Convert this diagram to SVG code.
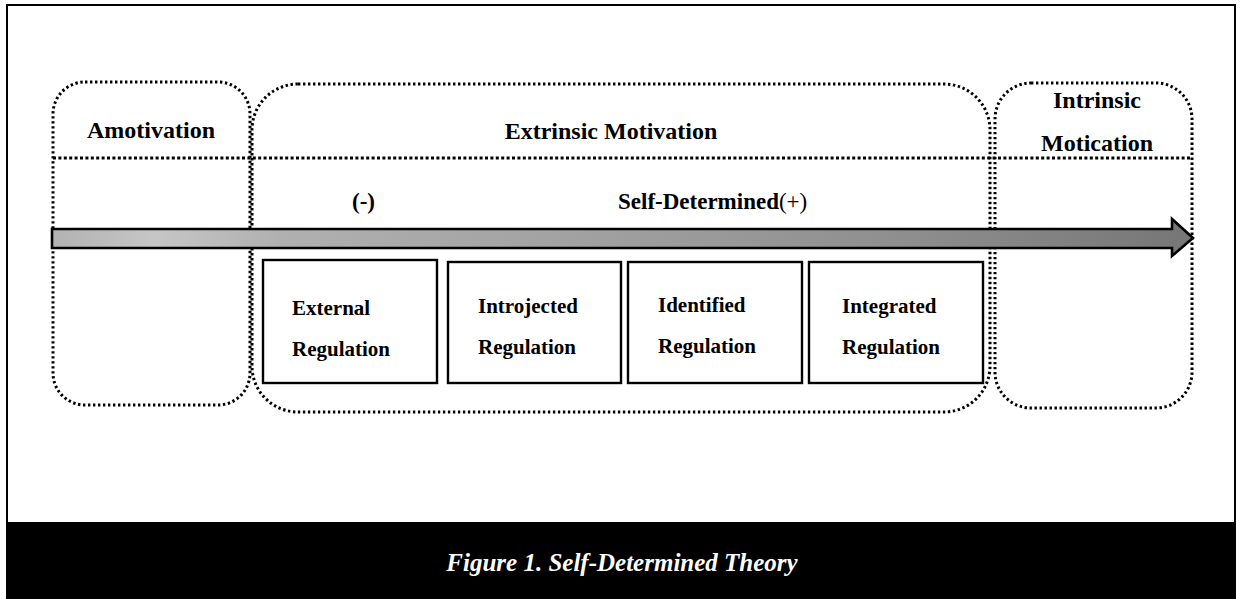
<svg xmlns="http://www.w3.org/2000/svg" width="1240" height="599" viewBox="0 0 1240 599">
  <style>
    .zone { fill: none; stroke: #000; stroke-width: 3; stroke-dasharray: 2.4 2.6; }
    .divider { fill: none; stroke: #000; stroke-width: 3; stroke-dasharray: 3 2.4; }
    .box { fill: #fff; stroke: #000; stroke-width: 2.4; }
    .head { font-family: "Liberation Serif", "Times New Roman", serif; font-weight: bold; font-size: 24px; fill: #000; }
    .lbl { font-family: "Liberation Serif", "Times New Roman", serif; font-weight: bold; font-size: 21px; fill: #000; }
    .scale { font-family: "Liberation Serif", "Times New Roman", serif; font-weight: bold; font-size: 23px; fill: #000; }
    .caption { font-family: "Liberation Serif", "Times New Roman", serif; font-weight: bold; font-style: italic; font-size: 25px; fill: #fff; }
  </style>
  <defs>
    <linearGradient id="shaft" x1="52" y1="0" x2="1193" y2="0" gradientUnits="userSpaceOnUse">
      <stop offset="0" stop-color="#b2b2b2"/>
      <stop offset="0.09" stop-color="#c6c6c6"/>
      <stop offset="0.2" stop-color="#b0b0b0"/>
      <stop offset="0.45" stop-color="#a2a2a2"/>
      <stop offset="0.75" stop-color="#8e8e8e"/>
      <stop offset="1" stop-color="#767676"/>
    </linearGradient>
  </defs>

  <!-- page frame and caption band -->
  <rect x="0" y="0" width="1240" height="599" fill="#fff"/>
  <path d="M7 599 V5 H1235 V599" fill="none" stroke="#000" stroke-width="2"/>
  <rect x="6" y="522" width="1230" height="77" fill="#000"/>
  <text class="caption" x="622" y="571" text-anchor="middle">Figure 1. Self-Determined Theory</text>

  <!-- motivation zones -->
  <g id="amotivation">
    <rect class="zone" x="53" y="82" width="197" height="323" rx="32" ry="32"/>
    <text class="head" x="151" y="138" text-anchor="middle">Amotivation</text>
  </g>
  <g id="extrinsic-motivation">
    <rect class="zone" x="252" y="84" width="738" height="328" rx="46" ry="46"/>
    <text class="head" x="611" y="139" text-anchor="middle">Extrinsic Motivation</text>
  </g>
  <g id="intrinsic-motivation">
    <rect class="zone" x="995" y="83" width="197" height="325" rx="36" ry="36"/>
    <text class="head" x="1097" y="108" text-anchor="middle">Intrinsic</text>
    <text class="head" x="1097" y="151" text-anchor="middle">Motication</text>
  </g>

  <!-- header divider line -->
  <line class="divider" x1="53" y1="158" x2="1192" y2="158"/>

  <!-- self-determination continuum -->
  <g id="continuum">
    <text class="scale" x="352" y="209">(-)</text>
    <text class="scale" x="618" y="209">Self-Determined<tspan font-weight="normal">(+)</tspan></text>
  </g>
  <g id="connectors">
    <polygon points="52,229 1172,229 1172,219 1193,238 1172,256 1172,248 52,248" fill="url(#shaft)" stroke="#000" stroke-width="2.6" stroke-linejoin="miter"/>
  </g>

  <!-- regulation types -->
  <g id="external-regulation">
    <rect class="box" x="263" y="260" width="174" height="123"/>
    <text class="lbl" x="292" y="315">External</text>
    <text class="lbl" x="292" y="356">Regulation</text>
  </g>
  <g id="introjected-regulation">
    <rect class="box" x="448" y="262" width="173" height="121"/>
    <text class="lbl" x="478" y="313">Introjected</text>
    <text class="lbl" x="478" y="354">Regulation</text>
  </g>
  <g id="identified-regulation">
    <rect class="box" x="628" y="262" width="174" height="121"/>
    <text class="lbl" x="658" y="312">Identified</text>
    <text class="lbl" x="658" y="353">Regulation</text>
  </g>
  <g id="integrated-regulation">
    <rect class="box" x="809" y="262" width="174" height="121"/>
    <text class="lbl" x="842" y="313">Integrated</text>
    <text class="lbl" x="842" y="354">Regulation</text>
  </g>
</svg>
